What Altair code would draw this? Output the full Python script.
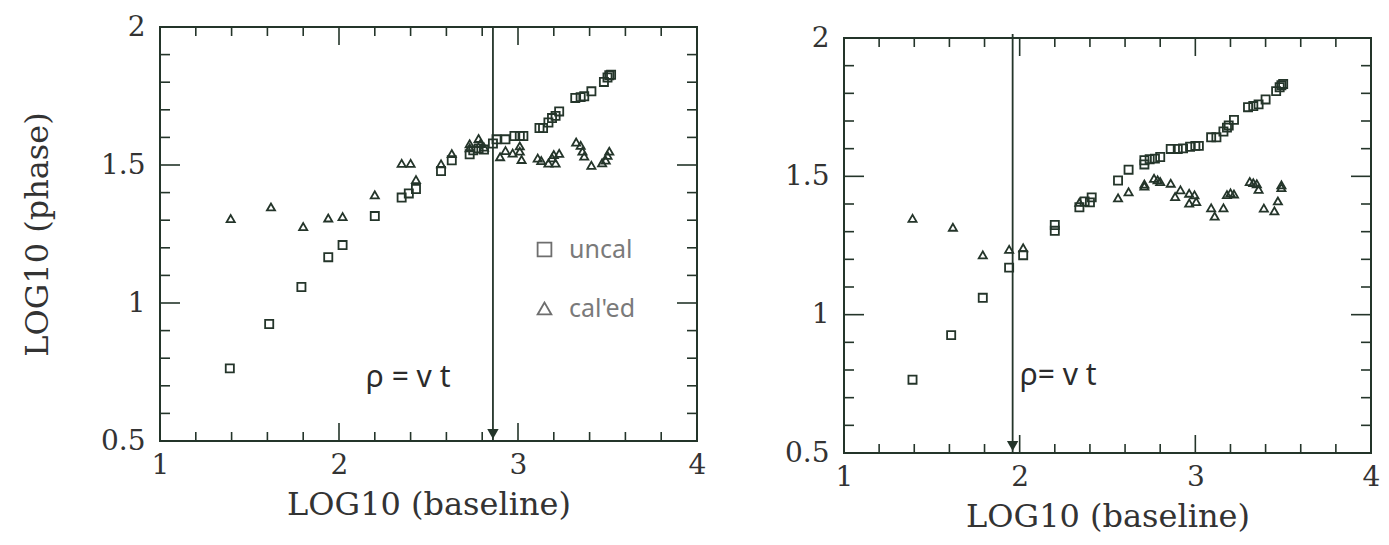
import altair as alt
import pandas as pd

# ---------------- data ----------------
# left panel
L_uncal_x = [1.39, 1.61, 1.79, 1.94, 2.02, 2.20, 2.35, 2.39, 2.43, 2.57, 2.63, 2.73, 2.75, 2.78, 2.81,
             2.86, 2.88, 2.93, 2.98, 3.01, 3.03, 3.12, 3.14, 3.17, 3.19, 3.21, 3.23, 3.32, 3.35, 3.37,
             3.41, 3.48, 3.50, 3.51, 3.52]
L_uncal_y = [0.763, 0.924, 1.058, 1.166, 1.21, 1.315, 1.382, 1.397, 1.413, 1.478, 1.517, 1.539, 1.553,
             1.56, 1.556, 1.578, 1.593, 1.593, 1.605, 1.605, 1.605, 1.634, 1.634, 1.654, 1.67, 1.678,
             1.694, 1.743, 1.746, 1.749, 1.767, 1.801, 1.817, 1.825, 1.827]
L_cal_x = [1.395, 1.62, 1.80, 1.94, 2.02, 2.20, 2.35, 2.40, 2.43, 2.57, 2.63, 2.73, 2.73, 2.78, 2.79,
           2.81, 2.90, 2.93, 2.97, 3.01, 3.01, 3.02, 3.11, 3.13, 3.17, 3.19, 3.20, 3.21, 3.23, 3.325,
           3.35, 3.36, 3.37, 3.41, 3.47, 3.49, 3.50, 3.51]
L_cal_y = [1.306, 1.348, 1.277, 1.308, 1.313, 1.392, 1.506, 1.506, 1.447, 1.504, 1.541, 1.577, 1.562,
           1.596, 1.578, 1.565, 1.53, 1.552, 1.543, 1.569, 1.55, 1.52, 1.525, 1.516, 1.507, 1.526,
           1.538, 1.507, 1.542, 1.583, 1.571, 1.55, 1.532, 1.499, 1.508, 1.518, 1.535, 1.55]

# right panel
R_uncal_x = [1.39, 1.61, 1.79, 1.94, 2.02, 2.20, 2.20, 2.34, 2.37, 2.40, 2.41, 2.56, 2.62, 2.71, 2.71,
             2.74, 2.77, 2.80, 2.86, 2.90, 2.93, 2.97, 3.00, 3.02, 3.09, 3.12, 3.16, 3.18, 3.19, 3.22,
             3.30, 3.33, 3.36, 3.40, 3.46, 3.48, 3.49, 3.50]
R_uncal_y = [0.765, 0.926, 1.061, 1.17, 1.215, 1.324, 1.303, 1.388, 1.409, 1.406, 1.424, 1.485, 1.524,
             1.543, 1.558, 1.562, 1.564, 1.57, 1.599, 1.599, 1.601, 1.607, 1.61, 1.61, 1.641, 1.641,
             1.662, 1.676, 1.684, 1.704, 1.75, 1.754, 1.76, 1.778, 1.808, 1.822, 1.829, 1.834]
R_cal_x = [1.39, 1.62, 1.79, 1.94, 2.02, 2.34, 2.56, 2.62, 2.71, 2.71, 2.765, 2.785, 2.80, 2.86, 2.885,
           2.915, 2.965, 2.965, 2.995, 3.005, 3.09, 3.11, 3.16, 3.18, 3.20, 3.22, 3.31, 3.33, 3.35,
           3.36, 3.39, 3.45, 3.47, 3.49, 3.49]
R_cal_y = [1.348, 1.316, 1.216, 1.236, 1.242, 1.406, 1.422, 1.444, 1.465, 1.472, 1.493, 1.487, 1.481,
           1.475, 1.427, 1.451, 1.439, 1.403, 1.433, 1.409, 1.386, 1.356, 1.386, 1.434, 1.44, 1.436,
           1.481, 1.477, 1.473, 1.453, 1.385, 1.375, 1.411, 1.459, 1.469]

series_names = ["uncal", "cal'ed"]
x_labels = [1, 2, 3, 4]
y_labels = [0.5, 1, 1.5, 2]
x_major = [1.0, 2.0, 3.0, 4.0]
x_minor = [1.2, 1.4, 1.6, 1.8, 2.2, 2.4, 2.6, 2.8, 3.2, 3.4, 3.6, 3.8]
y_major = [0.5, 1.0, 1.5, 2.0]
y_minor = [0.6, 0.7, 0.8, 0.9, 1.1, 1.2, 1.3, 1.4, 1.6, 1.7, 1.8, 1.9]

L_line_x = [2.86]
R_line_x = [1.96]
L_note = ["ρ = v t"]
R_note = ["ρ= v t"]
L_note_pos = [2.15, 0.73]
R_note_pos = [2.00, 0.78]

# ---------------- style ----------------
C = "#24352a"
TXT = "#333333"
FONT = "DejaVu Serif"
HAND = "Noto Sans"
MAJ, MIN = 18, 9


def panel(ux, uy, cx, cy, line_x, note, note_pos, W, H, ytitle, legend, line_top=0):
    xsc = alt.Scale(domain=[1, 4], nice=False, zero=False)
    ysc = alt.Scale(domain=[0.5, 2], nice=False, zero=False)
    xax = alt.Axis(values=x_labels, tickSize=0, domain=False, grid=False, labelFlush=False,
                   labelOverlap=False, labelFont=FONT, labelFontSize=28, labelColor=TXT,
                   labelPadding=10, title="LOG10 (baseline)", titleFont=FONT, titleFontSize=32,
                   titleFontWeight="normal", titleColor=TXT, titlePadding=10)
    yax = alt.Axis(values=y_labels, tickSize=0, domain=False, grid=False, labelFlush=False,
                   labelOverlap=False, labelFont=FONT, labelFontSize=28, labelColor=TXT,
                   labelPadding=15, labelExpr="datum.value + ''",
                   title=ytitle, titleFont=FONT, titleFontSize=32, titleFontWeight="normal",
                   titleColor=TXT, titlePadding=46)

    def X(f="x"):
        return alt.X(f + ":Q", scale=xsc, axis=xax)

    def Y(f="y"):
        return alt.Y(f + ":Q", scale=ysc, axis=yax)

    pts = pd.DataFrame({
        "x": ux + cx,
        "y": uy + cy,
        "series": [series_names[0]] * len(ux) + [series_names[1]] * len(cx),
    })
    shape_leg = None
    if legend:
        shape_leg = alt.Legend(orient="none", legendX=372, legendY=210, title=None,
                               labelFont=HAND, labelFontSize=25, labelColor="#7a7a7a",
                               symbolSize=190, symbolStrokeColor="#6e6e6e", symbolStrokeWidth=1.8,
                               rowPadding=33, labelOffset=12)
    points = alt.Chart(pts).mark_point(filled=False, strokeWidth=1.8, color=C, size=66, opacity=1).encode(
        x=X(), y=Y(),
        shape=alt.Shape("series:N", scale=alt.Scale(domain=series_names, range=["square", "triangle-up"]),
                        legend=shape_leg),
    )

    xm = pd.DataFrame({"x": x_major})
    xn = pd.DataFrame({"x": x_minor})
    ym = pd.DataFrame({"y": y_major})
    yn = pd.DataFrame({"y": y_minor})
    rule = dict(color=C, strokeWidth=1.6)
    ticks = [
        alt.Chart(xm).mark_rule(**rule).encode(x=X(), y=alt.value(H), y2=alt.value(H - MAJ)),
        alt.Chart(xn).mark_rule(**rule).encode(x=X(), y=alt.value(H), y2=alt.value(H - MIN)),
        alt.Chart(xm).mark_rule(**rule).encode(x=X(), y=alt.value(0), y2=alt.value(MAJ)),
        alt.Chart(xn).mark_rule(**rule).encode(x=X(), y=alt.value(0), y2=alt.value(MIN)),
        alt.Chart(ym).mark_rule(**rule).encode(y=Y(), x=alt.value(0), x2=alt.value(MAJ + 2)),
        alt.Chart(yn).mark_rule(**rule).encode(y=Y(), x=alt.value(0), x2=alt.value(MIN + 1)),
        alt.Chart(ym).mark_rule(**rule).encode(y=Y(), x=alt.value(W), x2=alt.value(W - MAJ - 2)),
        alt.Chart(yn).mark_rule(**rule).encode(y=Y(), x=alt.value(W), x2=alt.value(W - MIN - 1)),
    ]

    ld = pd.DataFrame({"x": line_x})
    vline = alt.Chart(ld).mark_rule(color=C, strokeWidth=1.8).encode(
        x=X(), y=alt.value(line_top), y2=alt.value(H))
    arrow = alt.Chart(ld).mark_point(shape="triangle-down", filled=True, color=C, size=130, opacity=1).encode(
        x=X(), y=alt.value(H - 7))

    nd = pd.DataFrame({"x": [note_pos[0]], "y": [note_pos[1]], "t": note})
    txt = alt.Chart(nd).mark_text(font=HAND, fontSize=30, color="#2b2b2b", align="left",
                                  baseline="middle").encode(x=X(), y=Y(), text="t:N")

    return alt.layer(*ticks, vline, arrow, txt, points).properties(width=W, height=H)


left = panel(L_uncal_x, L_uncal_y, L_cal_x, L_cal_y, L_line_x, L_note, L_note_pos, 537, 414,
             "LOG10 (phase)", True)
right = panel(R_uncal_x, R_uncal_y, R_cal_x, R_cal_y, R_line_x, R_note, R_note_pos, 527, 415,
              None, False, line_top=-4)

# small invisible spacer so the right panel sits a little lower, as in the scan
spacer = alt.Chart(pd.DataFrame({"s": [0]})).mark_point(opacity=0, size=1).encode(
    x=alt.value(0), y=alt.value(0)).properties(width=1, height=1,
                                               view=alt.ViewBackground(stroke="transparent"))

chart = alt.hconcat(left, alt.vconcat(spacer, right, spacing=-6), spacing=76).resolve_scale(
    shape="independent").resolve_legend(shape="independent").configure_view(
    stroke=C, strokeWidth=2).properties(
    padding={"left": 12, "top": 4, "right": 0, "bottom": 0}, background="white")

chart.save("out.html", embed_options={"renderer": "svg", "actions": False})
